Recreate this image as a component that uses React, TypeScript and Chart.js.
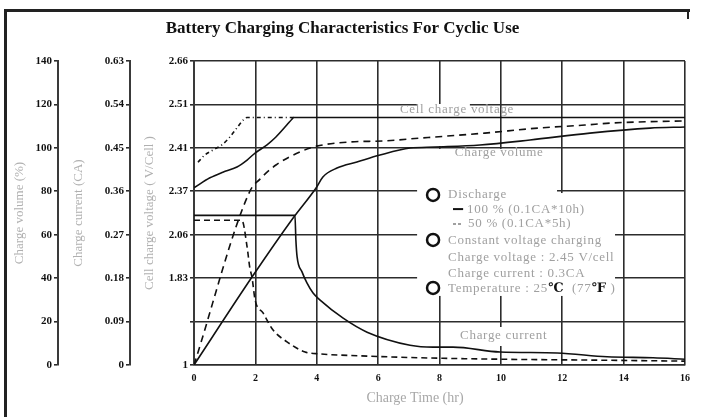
import React, { useEffect, useRef } from 'react';
import { Chart, registerables } from 'chart.js';

Chart.register(...registerables);

const SERIF = '"Liberation Serif", "DejaVu Serif", serif';

const TITLE = 'Battery Charging Characteristics For Cyclic Use';
const X_TITLE = 'Charge Time (hr)';
const VOLUME_TITLE = 'Charge volume (%)';
const CURRENT_TITLE = 'Charge current (CA)';
const VOLTAGE_TITLE = 'Cell charge voltage ( V/Cell )';

const X_TICKS = [0, 2, 4, 6, 8, 10, 12, 14, 16];
const X_TICK_LABELS = ['0', '2', '4', '6', '8', '10', '12', '14', '16'];

const VOLUME_TICKS = [0, 20, 40, 60, 80, 100, 120, 140];
const VOLUME_TICK_LABELS = ['0', '20', '40', '60', '80', '100', '120', '140'];

const CURRENT_TICKS = [0, 0.09, 0.18, 0.27, 0.36, 0.45, 0.54, 0.63];
const CURRENT_TICK_LABELS = ['0', '0.09', '0.18', '0.27', '0.36', '0.45', '0.54', '0.63'];

const VOLTAGE_TICKS = [1.88, 1.98, 2.08, 2.18, 2.28, 2.38, 2.48, 2.58];
const VOLTAGE_TICK_LABELS = ['1', '', '1.83', '2.06', '2.37', '2.41', '2.51', '2.66'];

// [time (h), value]
const VOLUME_100: [number, number][] = [
  [0, 0], [1.89, 40.5], [3.23, 67.7], [4.0, 82.0], [4.2, 86.6], [4.66, 90.7], [5.31, 93.5],
  [6.06, 96.7], [7.04, 99.9], [7.85, 100.4], [9.32, 101.3], [10.95, 103.6], [12.9, 106.8],
  [14.86, 109.1], [16, 109.6],
];
const VOLUME_50: [number, number][] = [
  [0, 0], [1.82, 80], [2.15, 85.6], [2.67, 92.1], [3.52, 98.5], [4.0, 100.8], [5.08, 102.7],
  [6.22, 103.2], [7.36, 104.5], [7.85, 105.0], [9.48, 106.8], [11.2, 109.1], [12.74, 110.5],
  [13.55, 111.4], [14.43, 111.9], [15.93, 112.4],
];
const CURRENT_100: [number, number][] = [
  [0, 0.31], [3.29, 0.31], [3.32, 0.259], [3.36, 0.224], [3.52, 0.193], [3.68, 0.17],
  [3.88, 0.149], [4.1, 0.135], [4.86, 0.097], [5.64, 0.068], [7.04, 0.041], [7.79, 0.037],
  [8.44, 0.037], [9.97, 0.027], [11.83, 0.025], [13.46, 0.017], [14.96, 0.015], [16, 0.012],
];
const CURRENT_50: [number, number][] = [
  [0, 0.3], [1.56, 0.3], [1.73, 0.245], [1.82, 0.201], [1.89, 0.182], [1.99, 0.135],
  [2.25, 0.108], [2.57, 0.073], [3.03, 0.048], [3.62, 0.027], [4.1, 0.023], [5.41, 0.019],
  [7.36, 0.015], [9.97, 0.012], [13.2, 0.01], [16, 0.008],
];
const VOLTAGE_100: [number, number][] = [
  [0, 2.288], [0.52, 2.311], [0.94, 2.324], [1.4, 2.336], [1.73, 2.352], [1.99, 2.368],
  [2.38, 2.387], [2.67, 2.405], [3.03, 2.433], [3.19, 2.446], [3.25, 2.45], [16, 2.45],
];
const VOLTAGE_50: [number, number][] = [
  [0.13, 2.347], [0.36, 2.364], [0.62, 2.375], [0.91, 2.387], [1.17, 2.405], [1.4, 2.426],
  [1.6, 2.444], [1.73, 2.45], [3.25, 2.45],
];

// annotation placement, in (hours, volume %) coordinates
const BLANK_AREAS = [
  [7.27, 11.83, 79.2, 99.5],
  [7.27, 13.72, 31.8, 79.2],
  [7.27, 8.99, 100.8, 120.2],
  [8.6, 11.6, 8.75, 17.5],
];
const GRAY = '#a0a0a0';
const INK = '#111';
type Part = [string, string, boolean];
const NOTES: { t: number; v: number; size: number; parts: Part[] }[] = [
  { t: 6.71, v: 117.4, size: 13, parts: [['Cell charge voltage', GRAY, false]] },
  { t: 8.5, v: 97.6, size: 13, parts: [['Charge volume', GRAY, false]] },
  { t: 8.28, v: 78.7, size: 13, parts: [['Discharge', GRAY, false]] },
  { t: 8.9, v: 71.8, size: 13, parts: [['100 % (0.1CA*10h)', GRAY, false]] },
  { t: 8.93, v: 64.9, size: 13, parts: [['50 % (0.1CA*5h)', GRAY, false]] },
  { t: 8.28, v: 57.1, size: 13, parts: [['Constant voltage charging', GRAY, false]] },
  { t: 8.28, v: 49.3, size: 13, parts: [['Charge voltage : 2.45 V/cell', GRAY, false]] },
  { t: 8.28, v: 41.9, size: 13, parts: [['Charge current : 0.3CA', GRAY, false]] },
  {
    t: 8.28, v: 35.0, size: 13, parts: [
      ['Temperature : 25', GRAY, false], ['\u2103', INK, true], ['  (77', GRAY, false],
      ['\u2109', INK, true], [' )', GRAY, false],
    ],
  },
  { t: 8.67, v: 13.4, size: 13, parts: [['Charge current', GRAY, false]] },
];
const CIRCLES = [
  { t: 7.79, v: 78.3 },
  { t: 7.79, v: 57.6 },
  { t: 7.79, v: 35.5 },
];
const LEGEND_DASHES = [
  { t0: 8.44, t1: 8.77, v: 71.8, color: INK, dash: [] as number[] },
  { t0: 8.44, t1: 8.74, v: 64.9, color: GRAY, dash: [3, 2] },
];

const annotationPlugin = {
  id: 'annotations',
  beforeDatasetsDraw(chart: any) {
    const { ctx } = chart;
    const xs = chart.scales.x;
    const ys = chart.scales.yVolume;
    ctx.save();
    ctx.fillStyle = '#ffffff';
    for (const [t0, t1, v0, v1] of BLANK_AREAS) {
      const x0 = xs.getPixelForValue(t0);
      const x1 = xs.getPixelForValue(t1);
      const y0 = ys.getPixelForValue(v0);
      const y1 = ys.getPixelForValue(v1);
      ctx.fillRect(Math.min(x0, x1), Math.min(y0, y1), Math.abs(x1 - x0), Math.abs(y1 - y0));
    }
    ctx.restore();
  },
  afterDatasetsDraw(chart: any) {
    const { ctx } = chart;
    const xs = chart.scales.x;
    const ys = chart.scales.yVolume;
    ctx.save();
    ctx.textBaseline = 'middle';
    ctx.textAlign = 'left';
    try { (ctx as any).letterSpacing = '0.7px'; } catch (e) { /* ignore */ }
    for (const n of NOTES) {
      let x = xs.getPixelForValue(n.t);
      const y = ys.getPixelForValue(n.v);
      for (const [text, color, bold] of n.parts) {
        ctx.font = `${bold ? 'bold ' : ''}${n.size}px ${SERIF}`;
        ctx.fillStyle = color;
        ctx.fillText(text, x, y);
        x += ctx.measureText(text).width;
      }
    }
    try { (ctx as any).letterSpacing = '0px'; } catch (e) { /* ignore */ }
    ctx.strokeStyle = INK;
    ctx.lineWidth = 2.5;
    for (const c of CIRCLES) {
      ctx.beginPath();
      ctx.arc(xs.getPixelForValue(c.t), ys.getPixelForValue(c.v), 6, 0, Math.PI * 2);
      ctx.stroke();
    }
    ctx.lineWidth = 2;
    for (const d of LEGEND_DASHES) {
      ctx.strokeStyle = d.color;
      ctx.setLineDash(d.dash);
      const y = ys.getPixelForValue(d.v);
      ctx.beginPath();
      ctx.moveTo(xs.getPixelForValue(d.t0), y);
      ctx.lineTo(xs.getPixelForValue(d.t1), y);
      ctx.stroke();
    }
    ctx.restore();
  },
};

function toXY(a: [number, number][]) {
  return a.map(([x, y]) => ({ x, y }));
}

function sideAxis(
  weight: number, min: number, max: number, ticks: number[], labels: string[],
  width: number, title: string, titlePad: number, onChart: boolean,
) {
  return {
    type: 'linear' as const,
    position: 'left' as const,
    weight,
    min,
    max,
    afterBuildTicks: (s: any) => { s.ticks = ticks.map((value) => ({ value })); },
    afterFit: (s: any) => { s.width = width; },
    ticks: {
      callback: (_v: any, i: number) => labels[i],
      autoSkip: false,
      font: { family: SERIF, size: 11, weight: 'bold' as const },
      color: INK,
      padding: 2,
    },
    grid: {
      drawOnChartArea: onChart,
      drawTicks: true,
      tickLength: 4,
      color: '#2c2c2c',
      lineWidth: 1.6,
    },
    border: { display: true, color: '#3a3a3a', width: 2 },
    title: {
      display: true,
      text: title,
      color: '#b0b0b0',
      font: { family: SERIF, size: 13 },
      padding: { top: titlePad, bottom: 0 },
    },
  };
}

export default function App() {
  const ref = useRef<HTMLCanvasElement | null>(null);
  useEffect(() => {
    if (!ref.current) return;
    const line = (data: [number, number][], axis: string, dash: number[]) => ({
      data: toXY(data),
      yAxisID: axis,
      borderColor: INK,
      borderWidth: 1.6,
      borderDash: dash,
      pointRadius: 0,
      fill: false,
      cubicInterpolationMode: 'monotone' as const,
    });
    const chart = new Chart(ref.current, {
      type: 'line',
      data: {
        datasets: [
          line(VOLUME_100, 'yVolume', []),
          line(VOLUME_50, 'yVolume', [7, 5]),
          line(CURRENT_100, 'yCurrent', []),
          line(CURRENT_50, 'yCurrent', [6, 4]),
          line(VOLTAGE_100, 'yVoltage', []),
          line(VOLTAGE_50, 'yVoltage', [4, 3, 1, 3]),
        ],
      },
      options: {
        responsive: false,
        devicePixelRatio: 1,
        animation: false,
        events: [],
        layout: { padding: { left: 0, right: 19, top: 0, bottom: 0 } },
        plugins: {
          legend: { display: false },
          tooltip: { enabled: false },
          title: {
            display: true,
            text: TITLE,
            color: INK,
            font: { family: SERIF, size: 17, weight: 'bold' },
            padding: { top: 18, bottom: 22.6 },
          },
        },
        scales: {
          x: {
            type: 'linear',
            min: 0,
            max: 16,
            afterBuildTicks: (s: any) => { s.ticks = X_TICKS.map((value) => ({ value })); },
            afterFit: (s: any) => { s.height = 52; },
            ticks: {
              callback: (_v: any, i: number) => X_TICK_LABELS[i],
              autoSkip: false,
              maxRotation: 0,
              font: { family: SERIF, size: 10, weight: 'bold' },
              color: INK,
              padding: 7,
            },
            grid: { color: '#2c2c2c', lineWidth: 1.6, drawTicks: false },
            border: { display: true, color: '#2c2c2c', width: 1.6 },
            title: {
              display: true,
              text: X_TITLE + '              ',
              color: '#a8a8a8',
              font: { family: SERIF, size: 14 },
              padding: { top: 0, bottom: 10 },
            },
          },
          yVolume: sideAxis(3, 0, 140, VOLUME_TICKS, VOLUME_TICK_LABELS, 58, VOLUME_TITLE, 12, false),
          yCurrent: sideAxis(2, 0, 0.63, CURRENT_TICKS, CURRENT_TICK_LABELS, 72, CURRENT_TITLE, 13, false),
          yVoltage: sideAxis(1, 1.88, 2.58, VOLTAGE_TICKS, VOLTAGE_TICK_LABELS, 64, VOLTAGE_TITLE, 12, true),
        },
      } as any,
      plugins: [annotationPlugin],
    });
    return () => chart.destroy();
  }, []);

  return (
    <div style={{ position: 'absolute', left: 0, top: 0, width: 704, height: 417, background: '#fff', overflow: 'hidden' }}>
      <div style={{ position: 'absolute', left: 4, top: 9, width: 686, height: 3, background: '#222' }} />
      <div style={{ position: 'absolute', left: 4, top: 9, width: 3, height: 408, background: '#222' }} />
      <div style={{ position: 'absolute', left: 687, top: 9, width: 2, height: 10, background: '#222' }} />
      <canvas ref={ref} width={704} height={417} style={{ position: 'absolute', left: 0, top: 0 }} />
    </div>
  );
}
